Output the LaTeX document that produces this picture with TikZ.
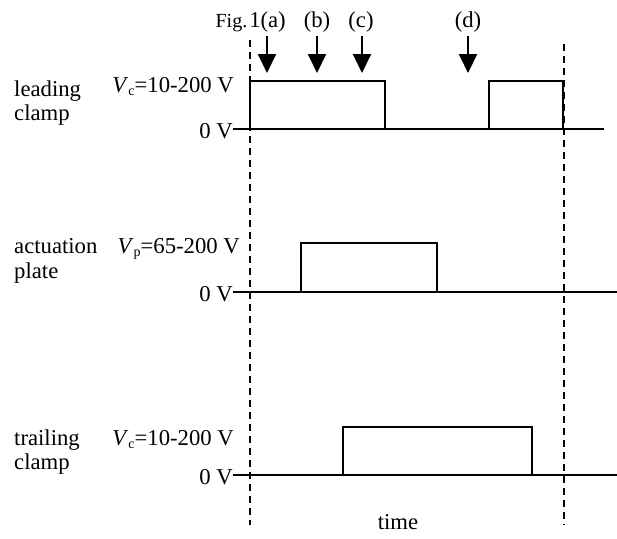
\documentclass[tikz,border=0pt]{standalone}
\usepackage{fontspec}
\setmainfont{Liberation Serif}
\usetikzlibrary{arrows.meta}
\newcommand{\volt}[2]{\textit{V}\raisebox{-0.35ex}{\fontsize{14}{14}\selectfont #1}=#2}
\begin{document}
\begin{tikzpicture}[x=1pt,y=-1pt,
  lbl/.style={font=\fontsize{22.7}{26}\selectfont, inner sep=0pt},
  pulse/.style={line width=2.7pt, line join=miter},
  base/.style={line width=1.6pt},
  guide/.style={line width=1.4pt, dash pattern=on 7pt off 5pt},
  marker/.style={line width=2pt, -{Triangle[width=18pt,length=19pt]}}]
\useasboundingbox (0,0) rectangle (617,538);
% guides
\coordinate (g1t) at (250,40); \coordinate (g1b) at (250,525);
\coordinate (g2t) at (564,44); \coordinate (g2b) at (564,525);
\draw[guide] (g1t) -- (g1b);
\draw[guide] (g2t) -- (g2b);
% markers
\foreach \n/\x in {a/267,b/317,c/362,d/468}{
  \coordinate (m\n t) at (\x,36); \coordinate (m\n b) at (\x,73);
  \draw[marker] (m\n t) -- (m\n b);
}
\node[lbl,anchor=base east] (fig) at (286,27) {{\fontsize{20}{22}\selectfont Fig.}\hspace{2pt}1(a)};
\node[lbl,anchor=base] (lb) at (317,27) {(b)};
\node[lbl,anchor=base] (lc) at (361,27) {(c)};
\node[lbl,anchor=base] (ld) at (468,27) {(d)};
% leading clamp
\node[lbl,anchor=base west] (lead1) at (14,96) {leading};
\node[lbl,anchor=base west] (lead2) at (14,120) {clamp};
\node[lbl,anchor=base east] (lv) at (234,92) {\volt{c}{10-200 V}};
\node[lbl,anchor=base east] (l0) at (233,138) {0 V};
\coordinate (l0s) at (233,129); \coordinate (le) at (604,129);
\draw[pulse] (l0s) -- (le);
\draw[pulse] (250,129) |- (385,81) -- (385,129);
\draw[pulse] (489,129) |- (563,81) -- (563,129);
% actuation plate
\node[lbl,anchor=base west] (act1) at (14,253) {actuation};
\node[lbl,anchor=base west] (act2) at (14,278) {plate};
\node[lbl,anchor=base east] (av) at (240,253) {\volt{p}{65-200 V}};
\node[lbl,anchor=base east] (a0) at (233,301) {0 V};
\coordinate (a0s) at (233,292); \coordinate (ae) at (617,292);
\draw[base] (a0s) -- (ae);
\draw[pulse] (301,292) |- (437,243) -- (437,292);
% trailing clamp
\node[lbl,anchor=base west] (tr1) at (14,445) {trailing};
\node[lbl,anchor=base west] (tr2) at (14,469) {clamp};
\node[lbl,anchor=base east] (tv) at (234,445) {\volt{c}{10-200 V}};
\node[lbl,anchor=base east] (t0) at (233,484) {0 V};
\coordinate (t0s) at (233,475); \coordinate (te) at (617,475);
\draw[base] (t0s) -- (te);
\draw[pulse] (343,475) |- (532,427) -- (532,475);
\node[lbl,anchor=base] (time) at (398,529) {time};
\end{tikzpicture}
\end{document}
